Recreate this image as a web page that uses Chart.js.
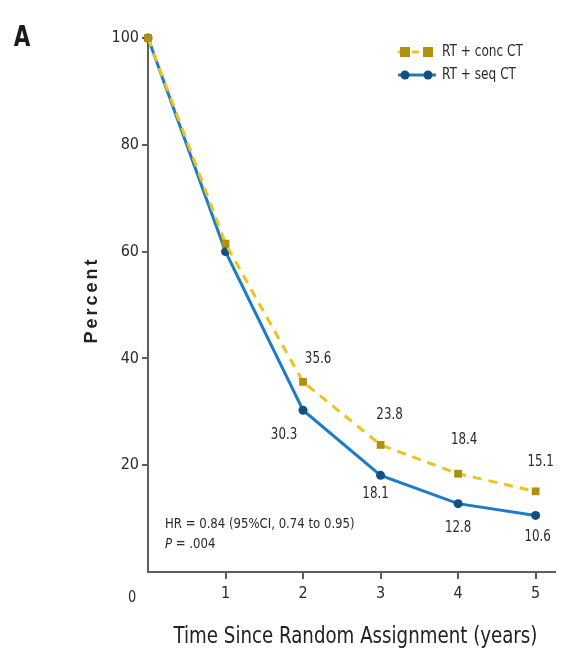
<!DOCTYPE html>
<html>
<head>
<meta charset="utf-8">
<script src="https://cdn.jsdelivr.net/npm/chart.js@4.4.1/dist/chart.umd.min.js"></script>
<style>
  html, body { margin: 0; padding: 0; background: #ffffff; }
  #wrap { width: 562px; height: 656px; position: relative; }
</style>
</head>
<body>
<div id="wrap"><canvas id="c" width="562" height="656"></canvas></div>
<script>
// Survival proportions by year since random assignment
const years = [0, 1, 2, 3, 4, 5];
const concCT = [100, 61.5, 35.6, 23.8, 18.4, 15.1];
const seqCT = [100, 60.0, 30.3, 18.1, 12.8, 10.6];
const seriesNames = ['RT + conc CT', 'RT + seq CT'];
const xTickValues = [1, 2, 3, 4, 5];
const yTickValues = [20, 40, 60, 80, 100];
// which points carry a printed value
const labelledFrom = 2;

// label placement relative to each point (pixels)
const concLabelOffset = [[0, 0], [0, 0], [15, -23], [9, -30], [6, -34], [5, -29]];
const seqLabelOffset = [[0, 0], [0, 0], [-19, 25], [-5, 19], [0, 24], [2, 22]];

const FONT = '"Liberation Sans Narrow", "DejaVu Sans Condensed", "Arial Narrow", sans-serif';
const TEXT = '#2b2b2b';
const GOLD_LINE = '#f0c21e';
const GOLD_MARK = '#b0900f';
const BLUE_LINE = '#1d7cc4';
const BLUE_MARK = '#0f4f82';
const AXIS = '#5e5e5e';

// narrow text: draw with a horizontal squeeze so it reads like a condensed face
function narrowText(ctx, text, x, y, font, align, squeeze) {
  ctx.save();
  ctx.font = font;
  ctx.textAlign = align;
  ctx.textBaseline = 'middle';
  ctx.translate(x, y);
  ctx.scale(squeeze, 1);
  ctx.fillText(text, 0, 0);
  const w = ctx.measureText(text).width * squeeze;
  ctx.restore();
  return w;
}

const extras = {
  id: 'extras',
  afterDatasetsDraw(chart) {
    const ctx = chart.ctx;
    const xs = chart.scales.x, ys = chart.scales.y;
    ctx.save();
    ctx.fillStyle = TEXT;
    const lblFont = '15px ' + FONT;
    // value labels
    for (let i = labelledFrom; i < years.length; i++) {
      const px = xs.getPixelForValue(years[i]);
      narrowText(ctx, concCT[i].toFixed(1), px + concLabelOffset[i][0], ys.getPixelForValue(concCT[i]) + concLabelOffset[i][1], lblFont, 'center', 0.88);
      narrowText(ctx, seqCT[i].toFixed(1), px + seqLabelOffset[i][0], ys.getPixelForValue(seqCT[i]) + seqLabelOffset[i][1], lblFont, 'center', 0.88);
    }
    // origin label on the x axis row
    narrowText(ctx, '0', xs.getPixelForValue(0) - 16, xs.top + 26, '16px ' + FONT, 'center', 0.9);

    // x axis title
    ctx.fillStyle = '#222';
    narrowText(ctx, 'Time Since Random Assignment (years)', (xs.getPixelForValue(0) + xs.right) / 2 + 4, 637, '23px ' + FONT, 'center', 0.88);

    // hazard ratio note
    ctx.fillStyle = TEXT;
    narrowText(ctx, 'HR = 0.84 (95%CI, 0.74 to 0.95)', 165, 524, '14px ' + FONT, 'left', 0.93);
    const pw = narrowText(ctx, 'P', 165, 544, 'italic 14px ' + FONT, 'left', 0.93);
    narrowText(ctx, ' = .004', 165 + pw, 544, '14px ' + FONT, 'left', 0.93);

    // legend
    const lx0 = 398, lx1 = 436, m0 = 405, m1 = 428;
    ctx.lineWidth = 3;
    ctx.strokeStyle = GOLD_LINE;
    ctx.setLineDash([7, 7]);
    ctx.beginPath(); ctx.moveTo(lx0, 52); ctx.lineTo(lx1, 52); ctx.stroke();
    ctx.setLineDash([]);
    ctx.fillStyle = GOLD_MARK;
    ctx.fillRect(m0 - 5, 47, 10, 10);
    ctx.fillRect(m1 - 5, 47, 10, 10);
    ctx.strokeStyle = BLUE_LINE;
    ctx.beginPath(); ctx.moveTo(lx0, 75); ctx.lineTo(lx1, 75); ctx.stroke();
    ctx.fillStyle = BLUE_MARK;
    ctx.beginPath(); ctx.arc(m0, 75, 4.5, 0, Math.PI * 2); ctx.fill();
    ctx.beginPath(); ctx.arc(m1, 75, 4.5, 0, Math.PI * 2); ctx.fill();
    ctx.fillStyle = TEXT;
    narrowText(ctx, seriesNames[0], 442, 52, '15px ' + FONT, 'left', 0.9);
    narrowText(ctx, seriesNames[1], 442, 75, '15px ' + FONT, 'left', 0.9);

    // panel letter
    ctx.fillStyle = '#1a1a1a';
    narrowText(ctx, 'A', 22, 39, 'bold 28px ' + FONT, 'center', 0.85);

    // y axis title, spaced out
    ctx.save();
    ctx.translate(92, 300);
    ctx.rotate(-Math.PI / 2);
    ctx.font = 'bold 18px "Liberation Sans", Arial, sans-serif';
    ctx.letterSpacing = '3px';
    ctx.textAlign = 'center';
    ctx.textBaseline = 'middle';
    ctx.fillStyle = '#222';
    ctx.fillText('Percent', 0, 0);
    ctx.restore();

    ctx.restore();
  }
};

new Chart(document.getElementById('c'), {
  type: 'line',
  data: {
    labels: years,
    datasets: [
      {
        label: seriesNames[0],
        data: years.map((x, i) => ({ x, y: concCT[i] })),
        borderColor: GOLD_LINE,
        borderWidth: 3,
        borderDash: [9, 7],
        pointStyle: 'rect',
        pointRadius: 5.5,
        pointBackgroundColor: GOLD_MARK,
        pointBorderColor: GOLD_MARK,
        pointBorderWidth: 0,
        tension: 0,
        clip: false
      },
      {
        label: seriesNames[1],
        data: years.map((x, i) => ({ x, y: seqCT[i] })),
        borderColor: BLUE_LINE,
        borderWidth: 3,
        pointStyle: 'circle',
        pointRadius: 4.5,
        pointBackgroundColor: BLUE_MARK,
        pointBorderColor: BLUE_MARK,
        pointBorderWidth: 0,
        tension: 0,
        clip: false
      }
    ]
  },
  options: {
    responsive: false,
    animation: false,
    devicePixelRatio: 1,
    layout: { padding: { top: 38, right: 7, left: 0, bottom: 0 } },
    plugins: { legend: { display: false }, tooltip: { enabled: false } },
    scales: {
      x: {
        type: 'linear',
        min: 0,
        max: 5.25,
        afterBuildTicks(scale) { scale.ticks = xTickValues.map(v => ({ value: v })); },
        afterFit(scale) { scale.height = 84; },
        border: { display: true, color: AXIS, width: 2 },
        grid: { drawOnChartArea: false, drawTicks: true, tickLength: 7, color: AXIS, lineWidth: 2 },
        ticks: { color: TEXT, font: { family: FONT, size: 16 }, padding: 5, maxRotation: 0 },
        title: { display: false }
      },
      y: {
        min: 0,
        max: 100,
        afterBuildTicks(scale) { scale.ticks = yTickValues.map(v => ({ value: v })); },
        afterFit(scale) { scale.width = 148; },
        border: { display: true, color: AXIS, width: 2 },
        grid: { drawOnChartArea: false, drawTicks: true, tickLength: 6, color: AXIS, lineWidth: 2 },
        ticks: { color: TEXT, font: { family: FONT, size: 16 }, padding: 3 }
      }
    }
  },
  plugins: [extras]
});
</script>
</body>
</html>
